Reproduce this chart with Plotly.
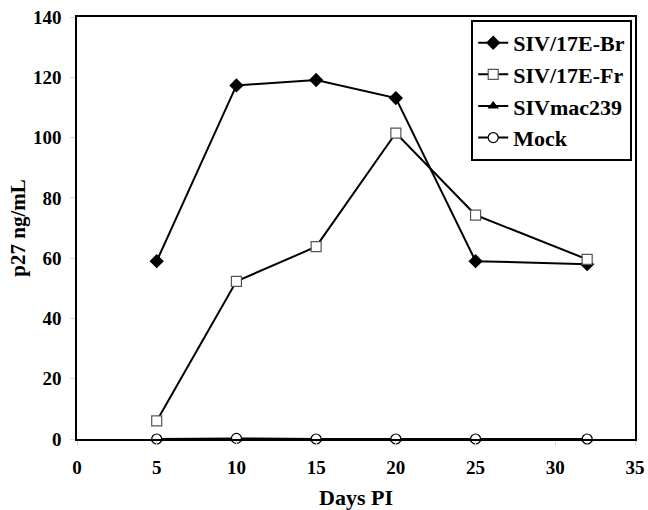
import plotly.graph_objects as go

days = [5, 10, 15, 20, 25, 32]
br = [59.0, 117.3, 119.1, 113.1, 59.0, 58.0]
fr = [6.0, 52.3, 63.8, 101.5, 74.3, 59.6]
mac239 = [0.0, 0.1, 0.0, 0.0, 0.0, 0.0]
mock = [0.0, 0.2, 0.0, 0.0, 0.0, 0.0]

x_ticks = [0, 5, 10, 15, 20, 25, 30, 35]
y_ticks = [0, 20, 40, 60, 80, 100, 120, 140]

font_family = "Liberation Serif, Times New Roman, serif"

fig = go.Figure()
fig.add_trace(go.Scatter(x=days, y=br, name="<b>SIV/17E-Br</b>", mode="lines+markers",
                         line=dict(color="black", width=2),
                         marker=dict(symbol="diamond", size=11, color="black"),
                         cliponaxis=False))
fig.add_trace(go.Scatter(x=days, y=fr, name="<b>SIV/17E-Fr</b>", mode="lines+markers",
                         line=dict(color="black", width=2),
                         marker=dict(symbol="square", size=10, color="white",
                                     line=dict(color="#555555", width=1.2)),
                         cliponaxis=False))
fig.add_trace(go.Scatter(x=days, y=mac239, name="<b>SIVmac239</b>", mode="lines+markers",
                         line=dict(color="black", width=2),
                         marker=dict(symbol="triangle-up", size=10, color="black"),
                         cliponaxis=False))
fig.add_trace(go.Scatter(x=days, y=mock, name="<b>Mock</b>", mode="lines+markers",
                         line=dict(color="black", width=2),
                         marker=dict(symbol="circle", size=10, color="white",
                                     line=dict(color="black", width=1.2)),
                         cliponaxis=False))

fig.update_layout(
    width=648, height=510,
    margin=dict(l=77, r=13, t=17, b=71),
    paper_bgcolor="white", plot_bgcolor="white",
    font=dict(family=font_family, color="black", size=19),
    legend=dict(x=0.995, y=0.993, xanchor="right", yanchor="top",
                bordercolor="black", borderwidth=2, bgcolor="white",
                font=dict(size=22, family=font_family), tracegroupgap=0),
    xaxis=dict(range=[0, 35], tickvals=x_ticks, ticktext=[f"<b>{v}</b>" for v in x_ticks],
               showgrid=False, zeroline=False, showline=True, linecolor="black", linewidth=2,
               mirror=True, ticks="outside", tickcolor="#d9d9d9", ticklen=5, automargin=False,
               ticklabelstandoff=5,
               title=dict(text="<b>Days PI</b>", font=dict(size=22))),
    yaxis=dict(range=[0, 140], tickvals=y_ticks,
               ticktext=[f"<b>{v}</b>\u00a0" for v in y_ticks],
               showgrid=False, zeroline=False, showline=True, linecolor="black", linewidth=2,
               mirror=True, ticks="outside", tickcolor="#d9d9d9", ticklen=5, automargin=False,
               title=dict(text="<b>p27 ng/mL</b>", font=dict(size=21), standoff=2)),
)

# remove the default 8px page margin so the figure fills the window exactly
fig.write_html("out.html", config={"displayModeBar": False},
               post_script="document.body.style.margin='0';")
